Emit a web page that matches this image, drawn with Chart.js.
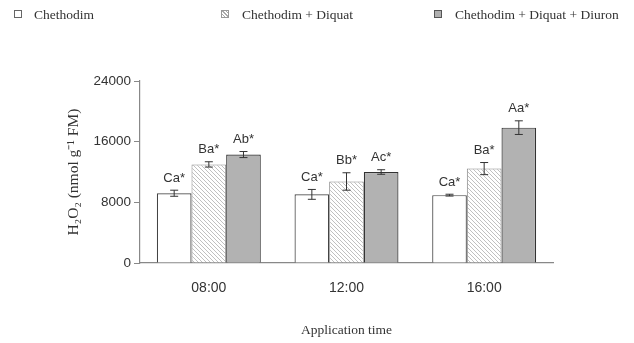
<!DOCTYPE html>
<html>
<head>
<meta charset="utf-8">
<script src="https://cdn.jsdelivr.net/npm/chart.js@4/dist/chart.umd.min.js"></script>
<style>
  body { margin: 0; background: #fff; }
  #wrap { position: relative; width: 634px; height: 343px; }
  .leg { position: absolute; top: 7px; font: 13.5px "Liberation Serif", serif; color: #333; line-height: 16px; white-space: nowrap; }
  .sw { position: absolute; top: 10px; width: 8px; height: 8px; box-sizing: border-box; border: 1px solid #666; }
</style>
</head>
<body>
<div id="wrap">
  <canvas id="h2o2Chart"></canvas>
  <div class="sw" style="left:14px;background:#fff;"></div>
  <div class="leg" style="left:34px;">Chethodim</div>
  <div class="sw" style="left:221px;border-color:#999;background:repeating-linear-gradient(45deg,#fff 0 1.5px,#aaa 1.5px 2.5px);"></div>
  <div class="leg" style="left:242px;">Chethodim + Diquat</div>
  <div class="sw" style="left:434px;background:#b0b0b0;border-color:#555;"></div>
  <div class="leg" style="left:455px;">Chethodim + Diquat + Diuron</div>
</div>
<script>
/* ---------- DATA ---------- */
const categories = ["08:00", "12:00", "16:00"];
const seriesNames = ["Chethodim", "Chethodim + Diquat", "Chethodim + Diquat + Diuron"];

const chethodim = [9200, 9050, 8950];
const chethodimDiquat = [13000, 10750, 12450];
const chethodimDiquatDiuron = [14300, 12000, 17850];

const chethodimErr = [400, 650, 120];
const chethodimDiquatErr = [350, 1150, 800];
const chethodimDiquatDiuronErr = [400, 300, 900];

const chethodimLetters = ["Ca*", "Ca*", "Ca*"];
const chethodimDiquatLetters = ["Ba*", "Bb*", "Ba*"];
const chethodimDiquatDiuronLetters = ["Ab*", "Ac*", "Aa*"];

const yTicks = [0, 8000, 16000, 24000];

/* ---------- HATCH PATTERN ---------- */
function makeHatch() {
  const c = document.createElement("canvas");
  c.width = 4; c.height = 4;
  const g = c.getContext("2d");
  g.fillStyle = "#fff";
  g.fillRect(0, 0, 4, 4);
  g.strokeStyle = "#b0b0b0";
  g.lineWidth = 0.8;
  g.beginPath();
  g.moveTo(0, 0); g.lineTo(4, 4);
  g.moveTo(-1, 3); g.lineTo(1, 5);
  g.moveTo(3, -1); g.lineTo(5, 1);
  g.stroke();
  return g.createPattern(c, "repeat");
}

const errors = [chethodimErr, chethodimDiquatErr, chethodimDiquatDiuronErr];
const letters = [chethodimLetters, chethodimDiquatLetters, chethodimDiquatDiuronLetters];

/* ---------- ERROR BARS + LETTERS ---------- */
const errorBarPlugin = {
  id: "errorBars",
  afterDatasetsDraw(chart) {
    const ctx = chart.ctx;
    const y = chart.scales.y;
    ctx.save();
    chart.data.datasets.forEach((ds, i) => {
      const meta = chart.getDatasetMeta(i);
      meta.data.forEach((bar, j) => {
        const v = ds.data[j];
        const e = errors[i][j];
        const top = y.getPixelForValue(v + e);
        const bot = y.getPixelForValue(v - e);
        const x = bar.x;
        ctx.strokeStyle = "#333";
        ctx.lineWidth = 1;
        ctx.beginPath();
        ctx.moveTo(x, top); ctx.lineTo(x, bot);
        ctx.moveTo(x - 4, top); ctx.lineTo(x + 4, top);
        ctx.moveTo(x - 4, bot); ctx.lineTo(x + 4, bot);
        ctx.stroke();
        ctx.fillStyle = "#333";
        ctx.font = '13px "Liberation Sans", Arial, sans-serif';
        ctx.textAlign = "center";
        ctx.textBaseline = "alphabetic";
        ctx.fillText(letters[i][j], x, top - 8.5);
      });
    });
    ctx.restore();
  }
};

/* ---------- CHART ---------- */
const chart = new Chart(document.getElementById("h2o2Chart"), {
  type: "bar",
  data: {
    labels: categories,
    datasets: [
      { label: seriesNames[0], data: chethodim, backgroundColor: "#ffffff", borderColor: "#444", borderWidth: 1.2 },
      { label: seriesNames[1], data: chethodimDiquat, backgroundColor: makeHatch(), borderColor: "#888", borderWidth: 1 },
      { label: seriesNames[2], data: chethodimDiquatDiuron, backgroundColor: "#b2b2b2", borderColor: "#333", borderWidth: 1.2 }
    ]
  },
  options: {
    responsive: true,
    maintainAspectRatio: false,
    animation: false,
    datasets: { bar: { categoryPercentage: 0.755, barPercentage: 1 } },
    layout: { padding: { left: 62, right: 81, top: 81, bottom: 0 } },
    plugins: { legend: { display: false }, tooltip: { enabled: false } },
    scales: {
      x: {
        grid: { display: false },
        border: { display: true, color: "#888", width: 1.2 },
        ticks: { padding: 9, color: "#333", font: { family: "Liberation Sans", size: 14 } },
        title: { display: true, text: "Application time", color: "#333", padding: { top: 4, bottom: 4 },
                 font: { family: "Liberation Serif", size: 13.5 } },
        afterFit: s => { s.height = 80; }
      },
      y: {
        min: 0, max: 24000,
        afterBuildTicks: s => { s.ticks = yTicks.map(v => ({ value: v })); },
        grid: { drawOnChartArea: false, drawTicks: true, tickLength: 6, color: "#888" },
        border: { display: true, color: "#888", width: 1.2 },
        ticks: { padding: 3, color: "#333", font: { family: "Liberation Sans", size: 13.5 }, callback: v => v },
        title: { display: true, text: "H₂O₂ (nmol g⁻¹ FM)", color: "#333", padding: { top: 3, bottom: 3 },
                 font: { family: "Liberation Serif", size: 15.5 } },
        afterFit: s => { s.width = 78; }
      }
    }
  },
  plugins: [errorBarPlugin]
});
</script>
</body>
</html>
